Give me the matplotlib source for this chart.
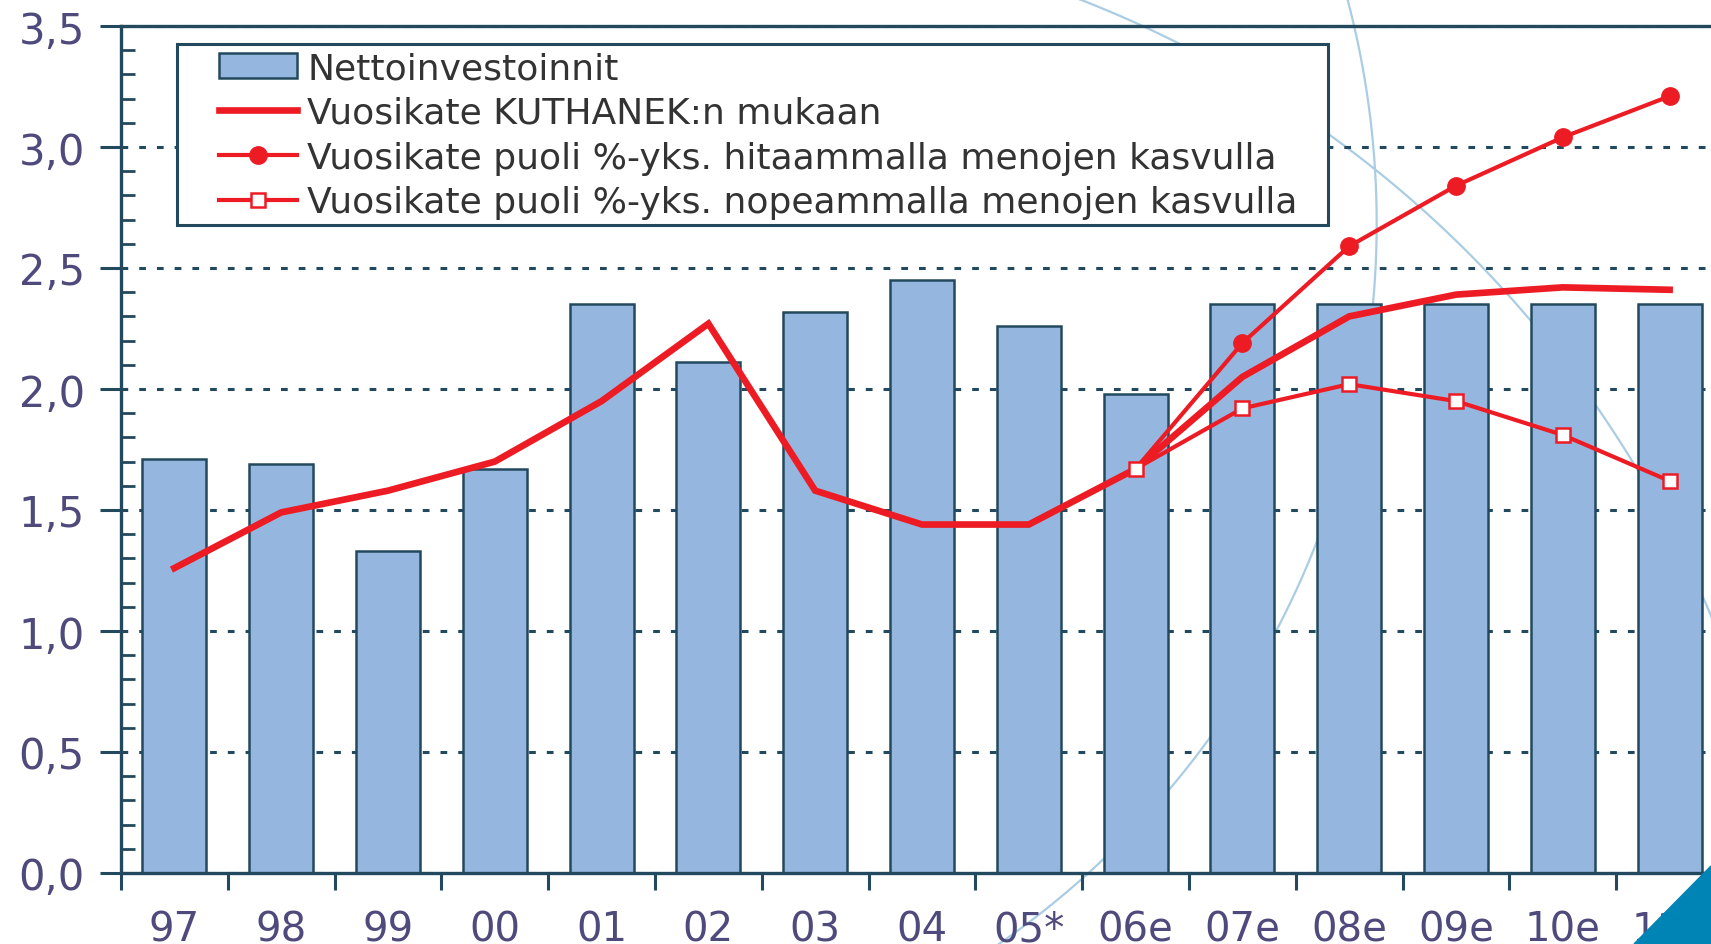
import matplotlib
matplotlib.use("Agg")
import matplotlib.pyplot as plt
import numpy as np
from matplotlib.lines import Line2D
from matplotlib.patches import Polygon, Rectangle
from matplotlib.ticker import FixedLocator, MultipleLocator

# data
years = ["97", "98", "99", "00", "01", "02", "03", "04", "05*", "06e", "07e", "08e", "09e", "10e", "11e"]
netto = [1.71, 1.69, 1.33, 1.67, 2.35, 2.11, 2.32, 2.45, 2.26, 1.98, 2.35, 2.35, 2.35, 2.35, 2.35]
kuthanek = [1.26, 1.49, 1.58, 1.70, 1.95, 2.27, 1.58, 1.44, 1.44, 1.67, 2.05, 2.30, 2.39, 2.42, 2.41]
hitaampi = [1.67, 2.19, 2.59, 2.84, 3.04, 3.21]
nopeampi = [1.67, 1.92, 2.02, 1.95, 1.81, 1.62]
ennuste_start = 9  # 06e

yticks = [0.0, 0.5, 1.0, 1.5, 2.0, 2.5, 3.0, 3.5]
ytick_labels = ["0,0", "0,5", "1,0", "1,5", "2,0", "2,5", "3,0", "3,5"]

labels = ["Nettoinvestoinnit",
          "Vuosikate KUTHANEK:n mukaan",
          "Vuosikate puoli %-yks. hitaammalla menojen kasvulla",
          "Vuosikate puoli %-yks. nopeammalla menojen kasvulla"]

teal = "#23495f"
red = "#ed1c24"
barblue = "#95b6df"
tickcol = "#4f4a7c"
W, H = 1711, 945

fig = plt.figure(figsize=(W / 100, H / 100), dpi=100)
fig.patch.set_facecolor("white")

# background decoration (pale arcs) - circles fitted through traced points
def fit_circle(pts):
    pts = np.array(pts, dtype=float)
    x, y = pts[:, 0], pts[:, 1]
    A = np.column_stack([x, y, np.ones_like(x)])
    b = -(x ** 2 + y ** 2)
    D, E, F = np.linalg.lstsq(A, b, rcond=None)[0]
    cx, cy = -D / 2, -E / 2
    r = np.sqrt(cx ** 2 + cy ** 2 - F)
    ang = np.arctan2(y - cy, x - cx)
    return cx, cy, r, ang.min(), ang.max()

arc1 = [(1340, 0), (1375, 151), (1384, 241), (1380, 331), (1353, 422), (1310, 542),
        (1277, 627), (1211, 729), (1157, 796), (1080, 880), (1015, 945)]
arc2 = [(1091, 0), (1178, 45), (1326, 145), (1386, 181), (1462, 241), (1528, 313),
        (1582, 386), (1637, 476), (1680, 542), (1711, 621)]
for pts in (arc1, arc2):
    cx, cy, r, a0, a1 = fit_circle(pts)
    t = np.linspace(a0 - 0.05, a1 + 0.05, 600)
    xs = cx + r * np.cos(t)
    ys = cy + r * np.sin(t)
    fig.add_artist(Line2D(xs / W, 1 - ys / H, transform=fig.transFigure,
                          color="#abcde4", lw=1.6, zorder=-1))

left = 121 / W
bottom = 1 - 874 / H
top = 1 - 27 / H
catw = 106.8 / W
ax = fig.add_axes([left, bottom, catw * len(years), top - bottom])
ax.set_facecolor("none")
axw_px = catw * len(years) * W
axh_px = 874 - 27

x = np.arange(len(years))
b = ax.bar(x, netto, width=0.6, color=barblue, edgecolor=teal, linewidth=1.8, zorder=2)
l1, = ax.plot(x, kuthanek, color=red, lw=4.8, solid_joinstyle="miter", zorder=3)
xf = x[ennuste_start:]
l2, = ax.plot(xf, hitaampi, color=red, lw=3.0, marker="o", ms=12.5,
              markevery=slice(1, None), zorder=4)
l3, = ax.plot(xf, nopeampi, color=red, lw=3.0, marker="s", ms=10, mfc="white", mec=red,
              mew=1.8, zorder=5)

ax.set_xlim(-0.5, len(years) - 0.5)
ax.set_ylim(0, 3.5)

ax.yaxis.set_major_locator(FixedLocator(yticks))
ax.set_yticklabels(ytick_labels)
ax.yaxis.set_minor_locator(MultipleLocator(0.1))
ax.tick_params(axis="y", which="major", direction="out", length=15, width=2.2,
               color=teal, labelsize=30, labelcolor=tickcol, pad=11)
ax.tick_params(axis="y", which="minor", direction="in", length=10, width=2.0, color=teal)

ax.set_xticks(x)
ax.set_xticklabels(years)
ax.xaxis.set_minor_locator(FixedLocator(np.arange(len(years)) - 0.5))
ax.tick_params(axis="x", which="major", length=0, labelsize=29, labelcolor=tickcol, pad=26)
ax.tick_params(axis="x", which="minor", direction="out", length=12, width=2.2, color=teal)

ax.set_axisbelow(True)
ax.yaxis.grid(True, color=teal, lw=2.2, linestyle=(0, (2.2, 3.6)))
ax.xaxis.grid(False)

for s in ax.spines.values():
    s.set_color(teal)
    s.set_linewidth(2.4)

# legend frame drawn as a box, legend itself without frame
fx0, fy0, fx1, fy1 = 177, 45, 1328, 226
frame = Rectangle(((fx0 - 121) / axw_px, (874 - fy1) / axh_px),
                  (fx1 - fx0) / axw_px, (fy1 - fy0) / axh_px,
                  transform=ax.transAxes, facecolor="white", edgecolor=teal,
                  linewidth=2.2, zorder=6)
ax.add_patch(frame)
leg = ax.legend([b, l1, l2, l3], labels, loc="upper left",
                bbox_to_anchor=((219 - 121) / axw_px, (874 - 52) / axh_px),
                borderaxespad=0, borderpad=0, fontsize=26, frameon=False,
                handlelength=2.15, handletextpad=0.3, labelspacing=0.3,
                labelcolor="#333333")
leg.set_zorder(7)

# blue corner triangle
fig.add_artist(Polygon([(1711 / W, 1 - 867 / H), (1634 / W, 0), (1, 0)],
                       closed=True, transform=fig.transFigure,
                       color="#0083b5", zorder=10))

fig.savefig("out.png", dpi=100)
